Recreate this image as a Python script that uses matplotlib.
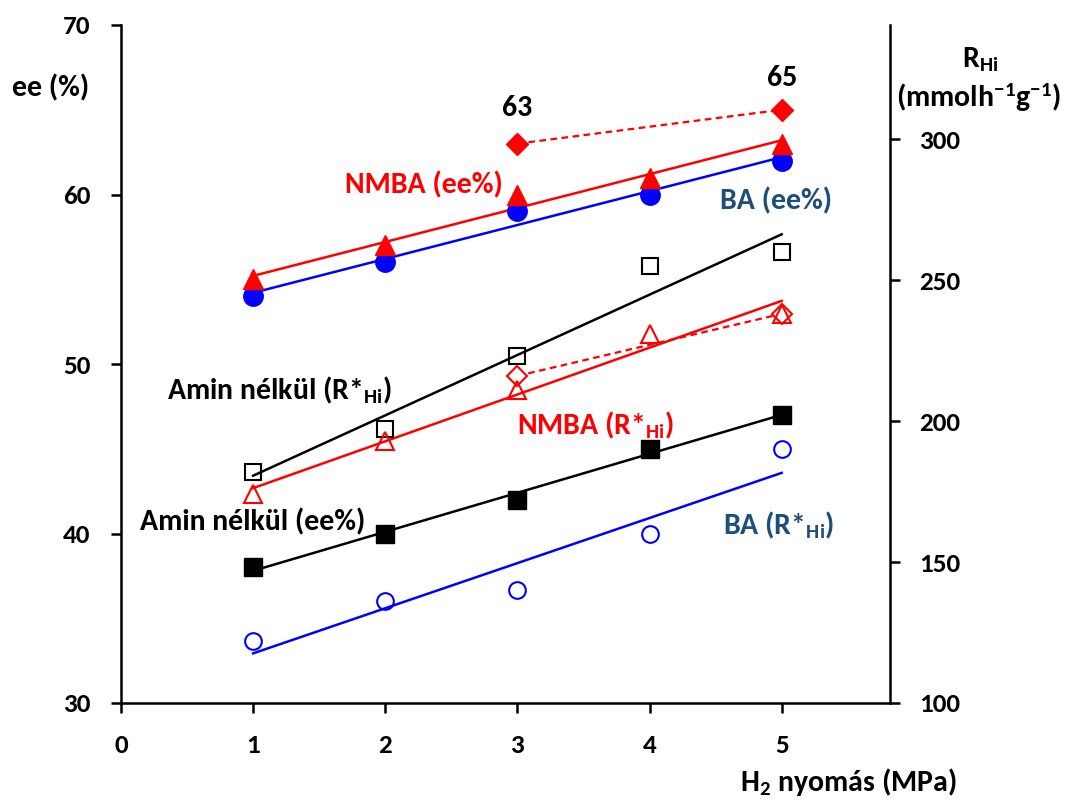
import matplotlib
matplotlib.use("Agg")
import matplotlib.pyplot as plt
import numpy as np

FAM = 'Carlito'
plt.rcParams['font.family'] = FAM
plt.rcParams['font.weight'] = 'bold'
plt.rcParams['mathtext.fontset'] = 'custom'
plt.rcParams['mathtext.rm'] = FAM + ':bold'
plt.rcParams['mathtext.bf'] = FAM + ':bold'
plt.rcParams['mathtext.it'] = FAM + ':bold'
plt.rcParams['axes.unicode_minus'] = False

# --- data ---
pressure = [1, 2, 3, 4, 5]
# left axis: ee (%)
ee_nmba = [55, 57, 60, 61, 63]
ee_ba = [54, 56, 59, 60, 62]
ee_amin = [38, 40, 42, 45, 47]
ee_extra_x = [3, 5]
ee_extra = [63, 65]
# right axis: R*Hi (mmol h-1 g-1)
r_amin = [182, 197, 223, 255, 260]
r_nmba = [174, 193, 211, 231, 238]
r_ba = [122, 136, 140, 160, 190]
r_extra_x = [3, 5]
r_extra = [216, 238]

RED = '#FF0000'
BLUE = '#0000FF'
DBLUE = '#1F4E79'
FS = 21.5
FT = 19.5

fig = plt.figure(figsize=(10.65, 8.0), dpi=100)
ax = fig.add_axes([121/1065, 97/800, (890-121)/1065, (703-25)/800])
ax2 = ax.twinx()

ax.set_xlim(0, 5.82)
ax.set_ylim(30, 70)
ax2.set_ylim(100, 100 + 678/2.82)

def trend(a, x, y, color):
    p = np.polyfit(x, y, 1)
    xs = np.array([min(x), max(x)])
    a.plot(xs, np.polyval(p, xs), color=color, lw=1.8, zorder=2)

# left-axis series
trend(ax, pressure, ee_nmba, RED)
trend(ax, pressure, ee_ba, BLUE)
trend(ax, pressure, ee_amin, 'black')
ax.plot(ee_extra_x, ee_extra, color=RED, ls=(0, (3, 2)), lw=1.6, marker='D',
        ms=11, mfc=RED, mec=RED, zorder=4)
ax.plot(pressure, ee_ba, ls='none', marker='o', ms=14, mfc=BLUE, mec=BLUE, zorder=4)
ax.plot(pressure, ee_nmba, ls='none', marker='^', ms=15, mfc=RED, mec=RED, zorder=5)
ax.plot(pressure, ee_amin, ls='none', marker='s', ms=12.5, mfc='black', mec='black', zorder=4)

# right-axis series
trend(ax2, pressure, r_amin, 'black')
trend(ax2, pressure, r_nmba, RED)
trend(ax2, pressure, r_ba, BLUE)
ax2.plot(r_extra_x, r_extra, color=RED, ls=(0, (3, 2)), lw=1.6, marker='D',
         ms=10, mfc='white', mec=RED, mew=1.5, zorder=4)
ax2.plot(pressure, r_amin, ls='none', marker='s', ms=12, mfc='none', mec='black', mew=1.5, zorder=4)
ax2.plot(pressure, r_nmba, ls='none', marker='^', ms=13, mfc='none', mec=RED, mew=1.5, zorder=5)
ax2.plot(pressure, r_ba, ls='none', marker='o', ms=12, mfc='none', mec=BLUE, mew=1.5, zorder=4)

# axes styling
for a in (ax, ax2):
    a.spines['top'].set_visible(False)
    for s in a.spines.values():
        s.set_linewidth(1.8)
ax.spines['right'].set_visible(False)
ax2.spines['left'].set_visible(False)
ax2.spines['bottom'].set_visible(False)

ax.set_xticks([0, 1, 2, 3, 4, 5])
ax.set_yticks([30, 40, 50, 60, 70])
ax2.set_yticks([100, 150, 200, 250, 300])
ax.tick_params(axis='x', direction='out', length=7, width=1.8, labelsize=FT, pad=15)
ax.tick_params(axis='y', direction='out', length=7, width=1.8, labelsize=FT, pad=15)
ax2.tick_params(axis='y', direction='out', length=7, width=1.8, labelsize=FT, pad=14)
for lab in ax.get_xticklabels() + ax.get_yticklabels() + ax2.get_yticklabels():
    lab.set_fontweight('bold')
    lab.set_family(FAM)

def lab(xp, yp, s, color='black'):
    fig.text(xp/1065, 1 - yp/800, s, fontsize=FS, fontweight='bold', family=FAM,
             color=color, ha='center', va='center')

# axis titles
lab(51, 88, 'ee (%)')
lab(980, 60, r'R$_{\mathbf{Hi}}$')
lab(979, 97, r'(mmolh$^{\mathbf{-1}}$g$^{\mathbf{-1}}$)')
lab(848, 782, r'H$_{\mathbf{2}}$ nyomás (MPa)')

# annotations
lab(517, 108, '63')
lab(782, 78, '65')
lab(424, 185, 'NMBA (ee%)', RED)
lab(776, 201, 'BA (ee%)', DBLUE)
lab(280, 390, r'Amin nélkül (R*$_{\mathbf{Hi}}$)')
lab(596, 425, r'NMBA (R*$_{\mathbf{Hi}}$)', RED)
lab(253, 522, 'Amin nélkül (ee%)')
lab(779, 525, r'BA (R*$_{\mathbf{Hi}}$)', DBLUE)

fig.savefig('out.png', dpi=100)
